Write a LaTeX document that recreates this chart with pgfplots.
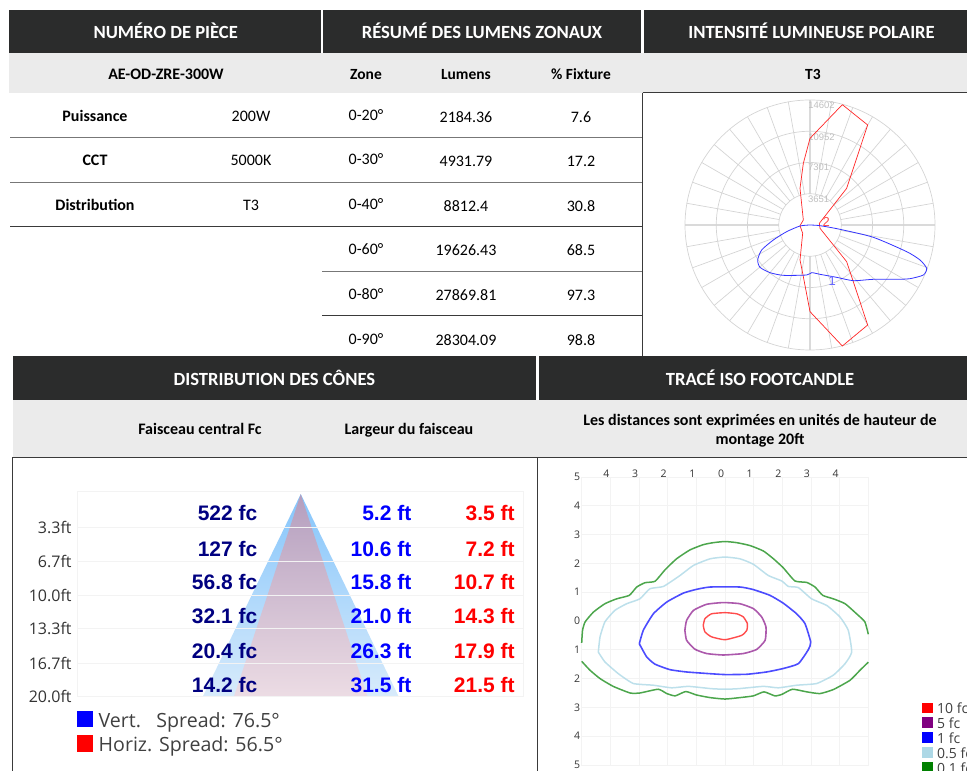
\documentclass[border=0pt]{standalone}
\usepackage{pgfplots}
\pgfplotsset{compat=1.18}
\usepackage{fontspec}
\setmainfont{Carlito}
\newfontfamily\liberation{Liberation Sans}
\newfontfamily\opensans{Open Sans}
\definecolor{hdr}{HTML}{2B2C2C}
\definecolor{rowgray}{HTML}{EBEBEB}
\definecolor{ruleA}{HTML}{777777}
\definecolor{ruleB}{HTML}{3A3A3A}
\definecolor{navyv}{HTML}{000080}
\definecolor{polgrid}{HTML}{D4D4D4}
\definecolor{polgridB}{HTML}{DADADA}
\definecolor{isogrid}{HTML}{F3F3F3}
\definecolor{lblue}{HTML}{ADD8E6}
\definecolor{pur}{HTML}{800080}
\definecolor{grn}{HTML}{008000}
\newcommand{\fs}[1]{\fontsize{#1pt}{#1pt}\selectfont}
\newcommand{\tx}[4]{\node[anchor=base,inner sep=0pt,font=#3] at (axis cs:#1,#2) {#4};}
\newcommand{\hb}[1]{\bfseries\fs{18.6}\color{white}#1}
\pgfplotsset{
  page/.style={at={(0pt,0pt)},anchor=south west,width=967pt,height=771pt,scale only axis,
    xmin=0,xmax=967,ymin=0,ymax=771,y dir=reverse,hide axis,clip=false},
}
\begin{document}
\begin{tikzpicture}
\path[use as bounding box] (0,0) rectangle (967pt,771pt);
\clip (0,0) rectangle (967pt,771pt);
% ---------- page frame and tables
\begin{axis}[page]
\fill[hdr] (axis cs:9,10) rectangle (axis cs:320.7,53);
\fill[hdr] (axis cs:323,10) rectangle (axis cs:641,53);
\fill[hdr] (axis cs:644,10) rectangle (axis cs:967,53);
\fill[rowgray] (axis cs:9,53) rectangle (axis cs:967,92.5);
\fill[hdr] (axis cs:12.6,356) rectangle (axis cs:536.2,400);
\fill[hdr] (axis cs:538.8,356) rectangle (axis cs:967,400);
\fill[rowgray] (axis cs:12.6,400) rectangle (axis cs:967,457);
\draw[ruleA,line width=1pt] (axis cs:10,137) -- (axis cs:642,137);
\draw[ruleA,line width=1pt] (axis cs:10,182) -- (axis cs:642,182);
\draw[ruleB,line width=.8pt] (axis cs:10,226.5) -- (axis cs:642,226.5);
\draw[ruleA,line width=1pt] (axis cs:322,271) -- (axis cs:642,271);
\draw[ruleB,line width=.8pt] (axis cs:322,315.7) -- (axis cs:642,315.7);
\draw[ruleB,line width=.9pt] (axis cs:642.7,92.5) -- (axis cs:642.7,356);
\draw[ruleB,line width=.9pt] (axis cs:642.7,92.5) -- (axis cs:967,92.5);
\draw[ruleB,line width=.9pt] (axis cs:12,457) -- (axis cs:967,457);
\draw[ruleB,line width=.9pt] (axis cs:12,457) -- (axis cs:12,771);
\draw[ruleB,line width=.9pt] (axis cs:537,457) -- (axis cs:537,771);
\tx{165.7}{38}{\hb}{NUMÉRO DE PIÈCE}
\tx{482}{38}{\hb}{RÉSUMÉ DES LUMENS ZONAUX}
\tx{811.5}{38}{\hb}{INTENSITÉ LUMINEUSE POLAIRE}
\tx{274.4}{385}{\hb}{DISTRIBUTION DES CÔNES}
\tx{760}{385}{\hb}{TRACÉ ISO FOOTCANDLE}
\tx{166}{79}{\bfseries\fs{16}}{AE-OD-ZRE-300W}
\tx{366}{79}{\bfseries\fs{15.5}}{Zone}
\tx{466}{79}{\bfseries\fs{15.5}}{Lumens}
\tx{581}{79}{\bfseries\fs{15.5}}{\% Fixture}
\tx{813}{79}{\bfseries\fs{15.5}}{T3}
\tx{95}{121}{\bfseries\fs{16}}{Puissance}
\tx{95}{165}{\bfseries\fs{16}}{CCT}
\tx{95}{210}{\bfseries\fs{16}}{Distribution}
\tx{251}{121}{\fs{16}}{200W}
\tx{251}{165}{\fs{16}}{5000K}
\tx{251}{210}{\fs{16}}{T3}
\tx{366}{120}{\fs{16}}{0-20°}
\tx{366}{164}{\fs{16}}{0-30°}
\tx{366}{209}{\fs{16}}{0-40°}
\tx{366}{254}{\fs{16}}{0-60°}
\tx{366}{299}{\fs{16}}{0-80°}
\tx{366}{344}{\fs{16}}{0-90°}
\tx{466}{122}{\fs{16}}{2184.36}
\tx{466}{166}{\fs{16}}{4931.79}
\tx{466}{211}{\fs{16}}{8812.4}
\tx{466}{255}{\fs{16}}{19626.43}
\tx{466}{300}{\fs{16}}{27869.81}
\tx{466}{345}{\fs{16}}{28304.09}
\tx{581}{122}{\fs{16}}{7.6}
\tx{581}{166}{\fs{16}}{17.2}
\tx{581}{211}{\fs{16}}{30.8}
\tx{581}{255}{\fs{16}}{68.5}
\tx{581}{300}{\fs{16}}{97.3}
\tx{581}{345}{\fs{16}}{98.8}
\tx{200}{434}{\bfseries\fs{16}}{Faisceau central Fc}
\tx{409}{434}{\bfseries\fs{16}}{Largeur du faisceau}
\tx{760}{425}{\bfseries\fs{16}}{Les distances sont exprimées en unités de hauteur de}
\tx{760}{444}{\bfseries\fs{16}}{montage 20ft}
% legends
\fill[blue] (axis cs:76.7,710.7) rectangle (axis cs:93.3,727.3);
\fill[red] (axis cs:76.7,735) rectangle (axis cs:93.3,751.7);
\node[anchor=base west,inner sep=0pt,font=\opensans\fs{19.6},text=black!75] at (axis cs:98.5,727) {Vert.\ \ \ Spread: 76.5°};
\node[anchor=base west,inner sep=0pt,font=\opensans\fs{19.6},text=black!75] at (axis cs:98.5,751.5) {Horiz. Spread: 56.5°};
\fill[red] (axis cs:921.7,702.7) rectangle (axis cs:932.7,713);
\fill[pur] (axis cs:921.7,717) rectangle (axis cs:932.7,728);
\fill[blue] (axis cs:921.7,732) rectangle (axis cs:932.7,743);
\fill[lblue] (axis cs:921.7,747) rectangle (axis cs:932.7,758);
\fill[grn] (axis cs:921.7,762) rectangle (axis cs:932.7,773);
\node[anchor=base west,inner sep=0pt,font=\opensans\fs{14},text=black!75] at (axis cs:937,713) {10 fc};
\node[anchor=base west,inner sep=0pt,font=\opensans\fs{14},text=black!75] at (axis cs:937,728) {5 fc};
\node[anchor=base west,inner sep=0pt,font=\opensans\fs{14},text=black!75] at (axis cs:937,743) {1 fc};
\node[anchor=base west,inner sep=0pt,font=\opensans\fs{14},text=black!75] at (axis cs:937,758) {0.5 fc};
\node[anchor=base west,inner sep=0pt,font=\opensans\fs{14},text=black!75] at (axis cs:937,773) {0.1 fc};
\end{axis}
% ---------- cone
\begin{axis}[at={(77.8pt,74.3pt)},anchor=south west,width=445.9pt,height=205pt,scale only axis,
  xmin=-35.83,xmax=35.83,ymin=-0.23,ymax=20,y dir=reverse,clip=false,
  xtick=\empty,ytick={3.3,6.7,10,13.3,16.7,20},
  yticklabels={3.3ft,6.7ft,10.0ft,13.3ft,16.7ft,20.0ft},
  yticklabel style={font=\opensans\fs{16},text=black!80,inner sep=0pt,xshift=-6pt},
  major tick length=0pt,ymajorgrids,axis on top,
  y grid style={draw=isogrid,line width=1pt},
  axis line style={draw=isogrid,line width=1pt}]
\addplot[draw=none,top color={rgb,255:red,133;green,197;blue,251},bottom color={rgb,255:red,216;green,235;blue,251},forget plot]
  coordinates {(0,0)(2.6,3.3)(5.3,6.7)(7.9,10)(10.5,13.3)(13.15,16.7)(15.75,20)(-15.75,20)(-13.15,16.7)(-10.5,13.3)(-7.9,10)(-5.3,6.7)(-2.6,3.3)(0,0)};
\addplot[draw=none,top color={rgb,255:red,180;green,158;blue,190},bottom color={rgb,255:red,236;green,220;blue,228},forget plot]
  coordinates {(0,0)(1.75,3.3)(3.6,6.7)(5.35,10)(7.15,13.3)(8.95,16.7)(10.75,20)(-10.75,20)(-8.95,16.7)(-7.15,13.3)(-5.35,10)(-3.6,6.7)(-1.75,3.3)(0,0)};
\newcommand{\cv}[4]{\node[anchor=east,inner sep=0pt,font=\liberation\bfseries\fs{21},text=#1] at (axis cs:#2,#3) {#4};}
\cv{navyv}{-6.94}{1.9}{522 fc}
\cv{navyv}{-6.94}{5.4}{127 fc}
\cv{navyv}{-6.94}{8.7}{56.8 fc}
\cv{navyv}{-6.94}{12}{32.1 fc}
\cv{navyv}{-6.94}{15.5}{20.4 fc}
\cv{navyv}{-6.94}{18.8}{14.2 fc}
\cv{blue}{17.8}{1.9}{5.2 ft}
\cv{blue}{17.8}{5.4}{10.6 ft}
\cv{blue}{17.8}{8.7}{15.8 ft}
\cv{blue}{17.8}{12}{21.0 ft}
\cv{blue}{17.8}{15.5}{26.3 ft}
\cv{blue}{17.8}{18.8}{31.5 ft}
\cv{red}{34.4}{1.9}{3.5 ft}
\cv{red}{34.4}{5.4}{7.2 ft}
\cv{red}{34.4}{8.7}{10.7 ft}
\cv{red}{34.4}{12}{14.3 ft}
\cv{red}{34.4}{15.5}{17.9 ft}
\cv{red}{34.4}{18.8}{21.5 ft}
\end{axis}
% ---------- polar
\begin{axis}[at={(685pt,421pt)},anchor=south west,width=250pt,height=250pt,scale only axis,
  xmin=-14602,xmax=14602,ymin=-14602,ymax=14602,hide axis,clip=false]
\pgfplotsinvokeforeach{10,20,...,80,100,110,...,170,190,200,...,260,280,290,...,350}{
  \addplot[polgrid,line width=.7pt,data cs=polar,forget plot] coordinates {(#1,3651)(#1,14602)};
}
\pgfplotsinvokeforeach{0,90,180,270}{
  \addplot[polgridB,line width=1.2pt,data cs=polar,forget plot] coordinates {(#1,3651)(#1,14602)};
}
\draw[polgrid,line width=.7pt] (axis cs:0,0) circle [radius=3651];
\draw[polgrid,line width=.7pt] (axis cs:0,0) circle [radius=7301];
\draw[polgrid,line width=.7pt] (axis cs:0,0) circle [radius=10952];
\draw[polgrid,line width=.7pt] (axis cs:0,0) circle [radius=14602];
\node[font=\liberation\fs{9.5},text=black!25] at (axis cs:1350,14000) {14602};
\node[font=\liberation\fs{9.5},text=black!25] at (axis cs:1350,10300) {10952};
\node[font=\liberation\fs{9.5},text=black!25] at (axis cs:1000,6700) {7301};
\node[font=\liberation\fs{9.5},text=black!25] at (axis cs:1000,3000) {3651};
\addplot[red!85!white,line width=.7pt,forget plot] coordinates {
 (3777,14057)(6737,11682)(4283,4283)(1090,195)(1168,-389)(4283,-4283)(6737,-11682)(3777,-14135)
 (0,-10124)(-779,-6036)(-1168,-4089)(-857,-974)(-1168,-78)(-779,584)(-1168,4283)(-779,7204)(0,10124)(3777,14057)};
\addplot[blue!80!white,line width=.8pt,smooth,tension=.4,forget plot] coordinates {
 (0,0)(1168,-78)(3505,-506)(7399,-1441)(11293,-3115)(12850,-4089)(13629,-5062)(13240,-5841)(11682,-6269)
 (10124,-6347)(7399,-6347)(5062,-6503)(3115,-6114)(1168,-5763)(195,-5568)(-389,-5841)(-3115,-5880)
 (-4673,-5568)(-5841,-4945)(-6114,-4089)(-5646,-2921)(-4283,-1752)(-2726,-779)(-1168,-117)(0,0)};
\node[font=\liberation\fs{13},text=red!70!white] at (axis cs:1900,350) {2};
\node[font=\liberation\fs{13},text=blue!60!white] at (axis cs:2600,-6500) {1};
\end{axis}
% ---------- iso footcandle
\begin{axis}[at={(581.7pt,6pt)},anchor=south west,width=286.6pt,height=288pt,scale only axis,
  xmin=-5,xmax=5,ymin=-5,ymax=5,clip=false,
  xtick={-4,-3,-2,-1,0,1,2,3,4},xticklabels={4,3,2,1,0,1,2,3,4},
  ytick={-5,-4,-3,-2,-1,0,1,2,3,4,5},yticklabels={5,4,3,2,1,0,1,2,3,4,5},
  xticklabel pos=upper,
  xticklabel style={font=\opensans\fs{10.5},text=black!80,inner sep=0pt,xshift=-4pt,yshift=-1pt},
  yticklabel style={font=\opensans\fs{10.5},text=black!80,inner sep=0pt,xshift=-1.5pt},
  major tick length=0pt,grid=major,grid style={draw=isogrid,line width=.8pt},
  axis line style={draw=isogrid,line width=.8pt}]
\addplot[grn,opacity=.7,line width=1.5pt,smooth,tension=.3,forget plot] coordinates {
(-5,-0.76)(-4.97,-0.32)(-4.88,-0.03)(-4.59,0.31)(-4.19,0.60)(-3.78,0.77)(-3.34,0.89)(-3.08,1.18)(-2.79,1.33)(-2.44,1.38)
(-2.09,1.78)(-1.69,2.16)(-1.22,2.47)(-0.76,2.65)(-0.41,2.72)(0,2.76)(0.41,2.72)(0.87,2.62)(1.34,2.43)(1.69,2.16)(2.03,1.85)
(2.44,1.39)(2.85,1.34)(3.14,1.18)(3.41,0.89)(3.78,0.77)(4.19,0.60)(4.59,0.25)(4.88,-0.03)(5,-0.46)};
\addplot[grn,opacity=.7,line width=1.5pt,smooth,tension=.3,forget plot] coordinates {
(-5,-1.40)(-4.71,-1.71)(-4.36,-2.00)(-3.90,-2.27)(-3.31,-2.50)(-2.97,-2.50)(-2.33,-2.37)(-2.03,-2.52)(-1.74,-2.60)(-1.37,-2.45)
(-0.99,-2.57)(-0.52,-2.66)(0,-2.71)(0.52,-2.66)(0.99,-2.60)(1.36,-2.46)(1.74,-2.60)(1.98,-2.55)(2.35,-2.37)(2.85,-2.46)
(3.31,-2.52)(3.78,-2.38)(4.36,-2.06)(4.71,-1.71)(5,-1.43)};
\addplot[lblue,opacity=.8,line width=1.5pt,smooth,tension=.3,forget plot] coordinates {
(-4.42,-1.08)(-4.36,-0.55)(-4.19,-0.03)(-3.84,0.37)(-3.43,0.60)(-2.97,0.77)(-2.62,1.12)(-2.15,1.20)(-1.57,1.58)(-1.10,1.93)
(-0.52,2.16)(0,2.22)(0.52,2.16)(0.99,1.97)(1.51,1.58)(1.98,1.39)(2.21,1.20)(2.56,1.16)(3.02,0.77)(3.55,0.54)(4.01,0.14)
(4.30,-0.32)(4.42,-1.08)(4.19,-1.48)(3.78,-1.88)(3.20,-2.17)(2.50,-2.23)(1.86,-2.32)(1.34,-2.27)(0.47,-2.35)(0,-2.37)
(-0.47,-2.35)(-1.28,-2.27)(-1.86,-2.32)(-2.50,-2.23)(-3.20,-2.17)(-3.72,-1.83)(-4.19,-1.42)(-4.42,-1.08)};
\addplot[blue,opacity=.7,line width=1.6pt,smooth,tension=.3,forget plot] coordinates {
(-2.99,-0.79)(-2.85,-0.32)(-2.50,0.25)(-2.03,0.66)(-1.45,0.97)(-0.99,1.10)(-0.52,1.18)(0.52,1.18)(0.99,1.09)(1.57,0.89)
(2.03,0.62)(2.50,0.25)(2.79,-0.09)(2.99,-0.73)(2.91,-0.99)(2.56,-1.48)(2.03,-1.65)(1.45,-1.77)(0.76,-1.85)(0,-1.86)
(-0.52,-1.83)(-1.34,-1.77)(-1.92,-1.69)(-2.44,-1.50)(-2.73,-1.25)(-2.99,-0.79)};
\addplot[pur,opacity=.65,line width=1.6pt,smooth,tension=.3,forget plot] coordinates {
(-1.40,-0.32)(-1.34,0.02)(-1.10,0.37)(-0.64,0.58)(-0.06,0.64)(0.52,0.60)(0.99,0.43)(1.28,0.14)(1.43,-0.21)(1.40,-0.67)
(1.10,-0.99)(0.64,-1.13)(-0.06,-1.18)(-0.64,-1.13)(-1.05,-0.98)(-1.34,-0.67)(-1.40,-0.32)};
\addplot[red,opacity=.7,line width=1.4pt,smooth,tension=.3,forget plot] coordinates {
(-0.76,-0.15)(-0.70,0.08)(-0.47,0.25)(0,0.29)(0.41,0.25)(0.64,0.14)(0.78,-0.09)(0.76,-0.32)(0.58,-0.50)(0,-0.65)
(-0.47,-0.55)(-0.70,-0.38)(-0.76,-0.15)};
\end{axis}
\end{tikzpicture}
\end{document}
